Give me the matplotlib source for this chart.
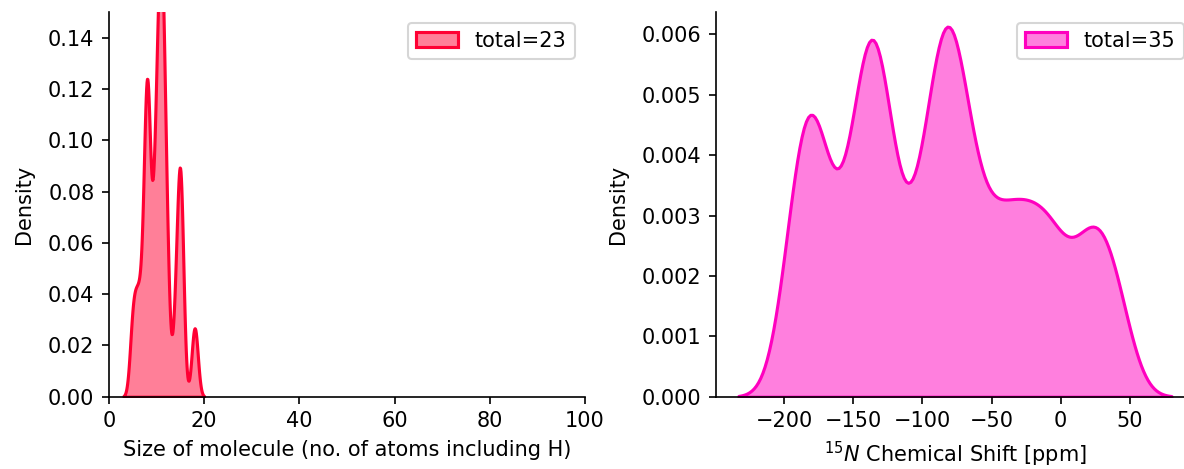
import numpy as np
import matplotlib
matplotlib.use("Agg")
import matplotlib.pyplot as plt
import seaborn as sns

# molecule sizes (no. of atoms incl. H)
mol_size = [5, 6, 7, 8, 8, 8, 8, 9, 10, 10, 10, 11, 11, 11, 11, 11,
            12, 12, 14, 15, 15, 15, 18]

# 15N chemical shifts [ppm]
n15_shift = [-195, -189, -184, -180, -176, -171,
             -157, -147, -142, -139, -136, -133, -130, -125,
             -112,
             -101, -93, -88, -85, -82, -79, -75, -70, -63,
             -53, -44, -35, -27, -18, -9, -1, 14, 23, 31, 42]

size_color = "#ff0033"
shift_color = "#ff00bf"

W, H = 1184, 469
fig = plt.figure(figsize=(W / 150, H / 150), dpi=150)
bottom = 1 - 396.7 / H
height = (396.7 - 12.1) / H
ax1 = fig.add_axes([109 / W, bottom, 476 / W, height])
ax2 = fig.add_axes([716 / W, bottom, 478.2 / W, height])

# left: size of molecule
sns.kdeplot(x=mol_size, ax=ax1, fill=True, alpha=0.5, color=size_color,
            linewidth=1.5, bw_adjust=0.38, label="total=%d" % len(mol_size))
ax1.set_xlim(0, 100)
ax1.set_ylim(0, 0.15)
ax1.set_xlabel("Size of molecule (no. of atoms including H)")
ax1.set_ylabel("Density", labelpad=6.5)
ax1.legend(loc="upper right")

# right: 15N shifts
sns.kdeplot(x=n15_shift, ax=ax2, fill=True, alpha=0.5, color=shift_color,
            linewidth=1.5, bw_adjust=0.378, label="total=%d" % len(n15_shift))
ax2.set_xlim(-249.4, 96.6)
ax2.set_ylim(0, 0.00637)
ax2.set_xlabel(r"$^{15}N$ Chemical Shift [ppm]")
ax2.set_ylabel("Density", labelpad=6.5)
ax2.legend(loc="upper right")

for ax in (ax1, ax2):
    ax.spines["top"].set_visible(False)
    ax.spines["right"].set_visible(False)

fig.savefig("out.png", dpi=150)
